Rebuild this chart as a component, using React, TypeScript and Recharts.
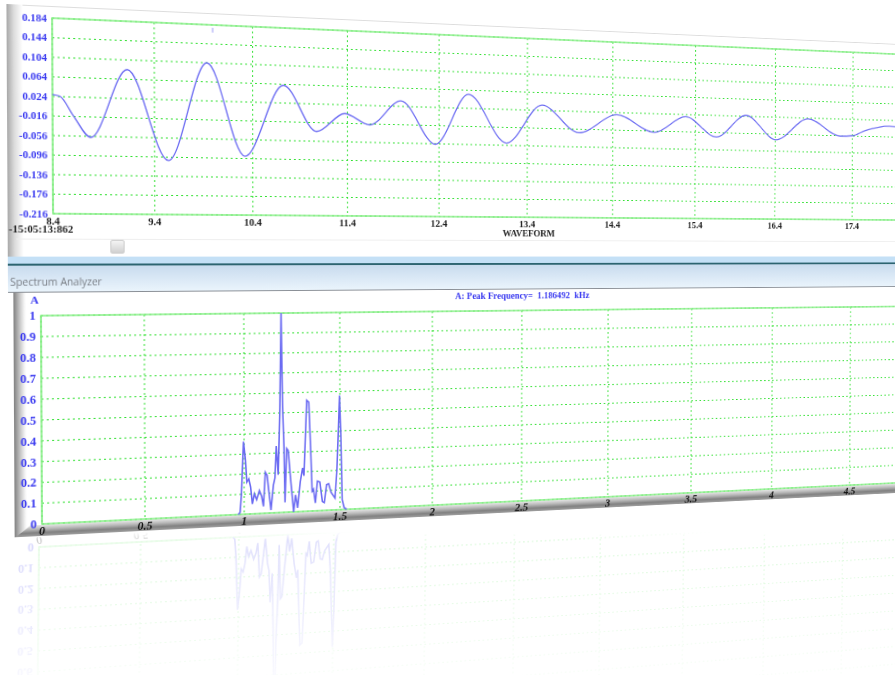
import React from "react";
import { LineChart, Line, XAxis, YAxis, CartesianGrid, ReferenceArea, ReferenceLine } from "recharts";

const waveTimes = [8.4, 8.47, 8.6, 8.77, 9.13, 9.54, 9.93, 10.32, 10.72, 11.07, 11.37, 11.64, 11.98, 12.36, 12.73, 13.16, 13.57, 14.0, 14.45, 14.9, 15.28, 15.66, 16.03, 16.41, 16.82, 17.24, 17.4, 17.57, 17.89, 18.1, 18.4];
const waveValues = [0.028, 0.025, -0.014, -0.058, 0.084, -0.103, 0.104, -0.091, 0.062, -0.035, 0.005, -0.018, 0.036, -0.057, 0.055, -0.051, 0.036, -0.024, 0.019, -0.019, 0.019, -0.026, 0.026, -0.029, 0.022, -0.017, -0.015, -0.002, 0.01, 0.006, -0.006];
const waveYTicks = [-0.216, -0.176, -0.136, -0.096, -0.056, -0.016, 0.024, 0.064, 0.104, 0.144, 0.184];
const waveXTicks = [8.4, 9.4, 10.4, 11.4, 12.4, 13.4, 14.4, 15.4, 16.4, 17.4];

const specFreqs = [0.969, 0.979, 0.986, 0.997, 1.007, 1.014, 1.024, 1.033, 1.042, 1.052, 1.064, 1.078, 1.09, 1.099, 1.109, 1.118, 1.138, 1.151, 1.159, 1.166, 1.176, 1.185, 1.192, 1.199, 1.206, 1.211, 1.22, 1.228, 1.239, 1.256, 1.266, 1.277, 1.291, 1.303, 1.31, 1.318, 1.325, 1.336, 1.346, 1.353, 1.36, 1.37, 1.381, 1.394, 1.407, 1.417, 1.429, 1.44, 1.453, 1.474, 1.484, 1.491, 1.498, 1.505, 1.512, 1.522, 1.536];
const specValues = [0, 0.01, 0.1, 0.362, 0.27, 0.16, 0.175, 0.135, 0.05, 0.1, 0.07, 0.115, 0.085, 0.035, 0.205, 0.19, 0.015, 0.14, 0.175, 0.335, 0.19, 0.53, 1, 0.53, 0.33, 0.05, 0.32, 0.31, 0.18, 0.0, 0.085, 0.02, 0.15, 0.22, 0.18, 0.38, 0.56, 0.55, 0.3, 0.1, 0.11, 0.04, 0.15, 0.145, 0.045, 0.04, 0.13, 0.135, 0.09, 0.06, 0.2, 0.38, 0.58, 0.38, 0.05, 0.01, 0];
const specYTicks = [0, 0.1, 0.2, 0.3, 0.4, 0.5, 0.6, 0.7, 0.8, 0.9, 1];
const specXTicks = [0, 0.5, 1, 1.5, 2, 2.5, 3, 3.5, 4, 4.5];

const waveData = waveTimes.map((t, i) => ({ t, v: waveValues[i] }));
const specData = specFreqs.map((f, i) => ({ f, a: specValues[i] }));

type P = [number, number];
function homography(src: P[], dst: P[]): string {
  const A: number[][] = [];
  for (let i = 0; i < 4; i++) {
    const [x, y] = src[i];
    const [X, Y] = dst[i];
    A.push([x, y, 1, 0, 0, 0, -x * X, -y * X, X]);
    A.push([0, 0, 0, x, y, 1, -x * Y, -y * Y, Y]);
  }
  for (let c = 0; c < 8; c++) {
    let p = c;
    for (let r = c + 1; r < 8; r++) if (Math.abs(A[r][c]) > Math.abs(A[p][c])) p = r;
    [A[c], A[p]] = [A[p], A[c]];
    for (let r = 0; r < 8; r++) {
      if (r === c) continue;
      const k = A[r][c] / A[c][c];
      for (let j = c; j < 9; j++) A[r][j] -= k * A[c][j];
    }
  }
  const h = A.map((row, i) => row[8] / row[i]);
  return `matrix3d(${h[0]},${h[3]},0,${h[6]},${h[1]},${h[4]},0,${h[7]},0,0,1,0,${h[2]},${h[5]},0,1)`;
}

const SERIF = "'Liberation Serif', serif";
const BLUE = "#3a3af0";
const GRID = "#30e030";
const EDGE = "#86ee86";
const TRACE = "#6a6af2";

const mainTransform = homography(
  [[60, 20], [1050, 20], [1050, 526], [50, 526]],
  [[50, 18], [928, 55.5], [925, 481.5], [42, 524]]
);
const mirrorTransform = homography(
  [[50, 17], [1050, 17], [1050, 226], [50, 226]],
  [[37, 755], [917, 680], [919, 503], [39, 547]]
);

function SpectrumChart() {
  return (
    <LineChart width={1100} height={260} data={specData} margin={{ top: 17, right: 50, left: 0, bottom: 0 }}>
      <CartesianGrid stroke={GRID} strokeDasharray="2 3" strokeWidth={1} />
      <XAxis dataKey="f" type="number" domain={[0, 5]} ticks={specXTicks} interval={0} height={34} axisLine={false} tickLine={false} tickMargin={-4}
        tick={{ fill: "#111", fontFamily: SERIF, fontSize: 12, fontWeight: 700, fontStyle: "italic" }} />
      <YAxis type="number" domain={[0, 1]} ticks={specYTicks} interval={0} width={50} axisLine={false} tickLine={false} tickMargin={-1}
        tick={{ fill: BLUE, fontFamily: SERIF, fontSize: 12, fontWeight: 700 }} />
      <ReferenceArea x1={0} x2={5} y1={0} y2={1} fill="none" stroke={EDGE} strokeWidth={1.6} ifOverflow="visible" />
      <Line dataKey="a" type="linear" stroke={TRACE} strokeWidth={1.6} dot={false} isAnimationActive={false} />
    </LineChart>
  );
}

export default function App() {
  return (
    <div style={{ position: "fixed", left: 0, top: 0, width: 895, height: 675, overflow: "hidden", background: "#fff" }}>
      {/* mirrored reflection */}
      <div style={{ position: "absolute", left: 0, top: 0, width: 895, height: 675, opacity: 0.2,
        WebkitMaskImage: "linear-gradient(to bottom, transparent 0, transparent 532px, #000 540px, rgba(0,0,0,0.2) 675px)",
        maskImage: "linear-gradient(to bottom, transparent 0, transparent 532px, #000 540px, rgba(0,0,0,0.2) 675px)" }}>
        <div style={{ position: "absolute", left: 0, top: 0, width: 1100, height: 260, transformOrigin: "0 0", transform: mirrorTransform, filter: "blur(0.7px)" }}>
          <SpectrumChart />
        </div>
      </div>

      {/* the tilted screen */}
      <div style={{ position: "absolute", left: 0, top: 0, width: 1100, height: 545, transformOrigin: "0 0", transform: mainTransform, filter: "blur(0.45px)", background: "transparent" }}>
        <div style={{ position: "absolute", left: 19, top: 8, width: 1081, height: 530, background: "#fff", borderTop: "1px solid #ddd" }} />
        {/* bevels */}
        <div style={{ position: "absolute", left: 19, top: 8, width: 15, height: 250, background: "linear-gradient(to right, #a8a8a8, #dcdcdc 45%, #fff)" }} />
        <div style={{ position: "absolute", left: 24, top: 292, width: 12, height: 246, background: "linear-gradient(to right, #808080, #c8c8c8 50%, #f4f4f4 85%, #fff)" }} />
        <div style={{ position: "absolute", left: 25, top: 527, width: 1075, height: 11, background: "linear-gradient(to bottom, #e4e4e4, #b8b8b8 35%, #808080 70%, #a0a0a0)", clipPath: "polygon(0 100%, 14px 0, 100% 0, 100% 100%)" }} />

        {/* slider row */}
        <div style={{ position: "absolute", left: 27, top: 240, width: 1073, height: 1, background: "#eee" }} />
        <div style={{ position: "absolute", left: 117, top: 241, width: 14, height: 14, borderRadius: 2, background: "linear-gradient(#f4f4f4,#d0d0d0)", border: "1px solid #ccc", boxSizing: "border-box" }} />
        {/* window title */}
        <div style={{ position: "absolute", left: 19, top: 258, width: 1081, height: 7, background: "#c4e0f6" }} />
        <div style={{ position: "absolute", left: 19, top: 265, width: 1081, height: 2, background: "#2c6470" }} />
        <div style={{ position: "absolute", left: 19, top: 267, width: 1081, height: 26, background: "linear-gradient(#c8dbee,#eaf4fc)", borderBottom: "1.5px solid #8a8f96" }} />
        <div style={{ position: "absolute", left: 21, top: 276, fontFamily: "'Open Sans', sans-serif", fontSize: 10, color: "#7a7f86", whiteSpace: "nowrap" }}>Spectrum Analyzer</div>
        <div style={{ position: "absolute", left: 1012, top: 275, width: 18, height: 15, border: "1px solid #a8b4c0", borderRadius: 2, background: "#e8eef4", boxSizing: "border-box" }} />

        {/* waveform */}
        <div style={{ position: "absolute", left: 0, top: 0 }}>
          <LineChart width={1100} height={260} data={waveData} margin={{ top: 20, right: 50, left: 0, bottom: 0 }}>
            <CartesianGrid stroke={GRID} strokeDasharray="2 3" strokeWidth={1} />
            <XAxis dataKey="t" type="number" domain={[8.4, 18.4]} ticks={waveXTicks} interval={0} height={45} axisLine={false} tickLine={false} tickMargin={-2}
              tick={{ fill: "#222", fontFamily: SERIF, fontSize: 10.5, fontWeight: 700 }} />
            <YAxis type="number" domain={[-0.216, 0.184]} ticks={waveYTicks} interval={0} width={62} axisLine={false} tickLine={false} tickMargin={-1}
              tickFormatter={(v: number) => v.toFixed(3)}
              tick={{ fill: BLUE, fontFamily: SERIF, fontSize: 10.5, fontWeight: 700 }} />
            <ReferenceArea x1={8.4} x2={18.4} y1={-0.216} y2={0.184} fill="none" stroke={EDGE} strokeWidth={1.6} ifOverflow="visible" />
            <ReferenceLine segment={[{ x: 9.99, y: 0.178 }, { x: 9.99, y: 0.168 }]} stroke="#9a9af5" strokeWidth={1} />
            <Line dataKey="v" type="monotone" stroke={TRACE} strokeWidth={1.3} dot={false} isAnimationActive={false} />
          </LineChart>
        </div>
        <div style={{ position: "absolute", left: 20, top: 225, fontFamily: SERIF, fontSize: 10.5, fontWeight: 700, color: "#222", whiteSpace: "nowrap" }}>-15:05:13:862</div>
        <div style={{ position: "absolute", left: 558, top: 227, width: 80, marginLeft: -40, textAlign: "center", fontFamily: SERIF, fontSize: 10, fontWeight: 700, color: "#222" }}>WAVEFORM</div>

        {/* spectrum */}
        <div style={{ position: "absolute", left: 0, top: 300 }}>
          <SpectrumChart />
        </div>
        <div style={{ position: "absolute", left: 40, top: 295, fontFamily: SERIF, fontSize: 11, fontWeight: 700, color: BLUE }}>A</div>
        <div style={{ position: "absolute", left: 475, top: 295, fontFamily: SERIF, fontSize: 10, fontWeight: 700, color: BLUE, whiteSpace: "pre" }}>A: Peak Frequency=  1.186492  kHz</div>
      </div>
    </div>
  );
}
